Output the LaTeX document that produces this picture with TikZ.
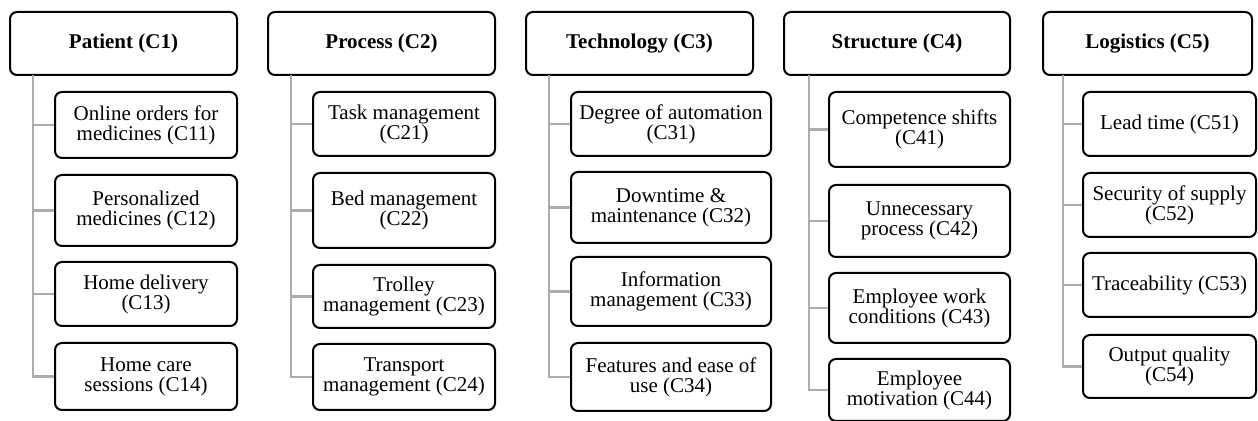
\documentclass[tikz,border=0pt]{standalone}
\usepackage{fontspec}
\setmainfont{Liberation Serif}
\definecolor{conngray}{RGB}{172,172,172}
\newcommand{\mybox}[7]{%
  \node[#2, minimum width={(#5-#3)*0.5pt}, minimum height={(#6-#4)*0.5pt}] (#1) at ({(#3+#5)/2},{(#4+#6)/2}) {#7};}
\begin{document}
\begin{tikzpicture}[x=0.5pt,y=-0.5pt,
  basebox/.style={draw=black, line width=1pt, rounded corners=3.5pt, align=center, inner sep=1pt,
    font=\fontsize{10.5}{10}\selectfont},
  headbox/.style={basebox, font=\fontsize{10.5}{10}\selectfont\bfseries},
  subbox/.style={basebox},
  conn/.style={draw=conngray, line width=1.3pt}]
\useasboundingbox (0,0) rectangle (1258,421);
% ---- spines
\coordinate (s1) at (33,75);
\coordinate (s2) at (291,75);
\coordinate (s3) at (549,75);
\coordinate (s4) at (809,75);
\coordinate (s5) at (1063,75);
% ---- Column 1
\mybox{h1}{headbox}{10}{12}{237}{75}{Patient (C1)}
\mybox{c11}{subbox}{55}{92}{237}{158}{Online orders for\\medicines (C11)}
\mybox{c12}{subbox}{55}{175}{237}{246}{Personalized\\medicines (C12)}
\mybox{c13}{subbox}{55}{262}{237}{326}{Home delivery\\(C13)}
\mybox{c14}{subbox}{55}{343}{237}{410}{Home care\\sessions (C14)}
% ---- Column 2
\mybox{h2}{headbox}{268}{12}{495}{75}{Process (C2)}
\mybox{c21}{subbox}{313}{92}{495}{156}{Task management\\(C21)}
\mybox{c22}{subbox}{313}{173}{495}{248}{Bed management\\(C22)}
\mybox{c23}{subbox}{313}{265}{495}{328}{Trolley\\management (C23)}
\mybox{c24}{subbox}{313}{344}{495}{410}{Transport\\management (C24)}
% ---- Column 3
\mybox{h3}{headbox}{526}{12}{753}{75}{Technology (C3)}
\mybox{c31}{subbox}{571}{92}{771}{156}{Degree of automation\\(C31)}
\mybox{c32}{subbox}{571}{172}{771}{243}{Downtime \&\\maintenance (C32)}
\mybox{c33}{subbox}{571}{257}{771}{326}{Information\\management (C33)}
\mybox{c34}{subbox}{571}{343}{771}{411}{Features and ease of\\use (C34)}
% ---- Column 4
\mybox{h4}{headbox}{784}{12}{1010}{75}{Structure (C4)}
\mybox{c41}{subbox}{829}{92}{1010}{167}{Competence shifts\\(C41)}
\mybox{c42}{subbox}{829}{185}{1010}{257}{Unnecessary\\process (C42)}
\mybox{c43}{subbox}{829}{273}{1010}{343}{Employee work\\conditions (C43)}
\mybox{c44}{subbox}{829}{359}{1010}{421}{Employee\\motivation (C44)}
% ---- Column 5
\mybox{h5}{headbox}{1043}{12}{1252}{75}{Logistics (C5)}
\mybox{c51}{subbox}{1083}{92}{1256}{156}{Lead time (C51)}
\mybox{c52}{subbox}{1083}{173}{1256}{237}{Security of supply\\(C52)}
\mybox{c53}{subbox}{1083}{253}{1256}{317}{Traceability (C53)}
\mybox{c54}{subbox}{1083}{335}{1256}{398}{Output quality\\(C54)}
% ---- connectors
\foreach \k in {1,...,5}{
  \draw[conn] (s\k) |- (c\k4.west);
  \foreach \j in {1,2,3}{
    \draw[conn] (s\k |- c\k\j.west) -- (c\k\j.west);
  }
}
\end{tikzpicture}
\end{document}
